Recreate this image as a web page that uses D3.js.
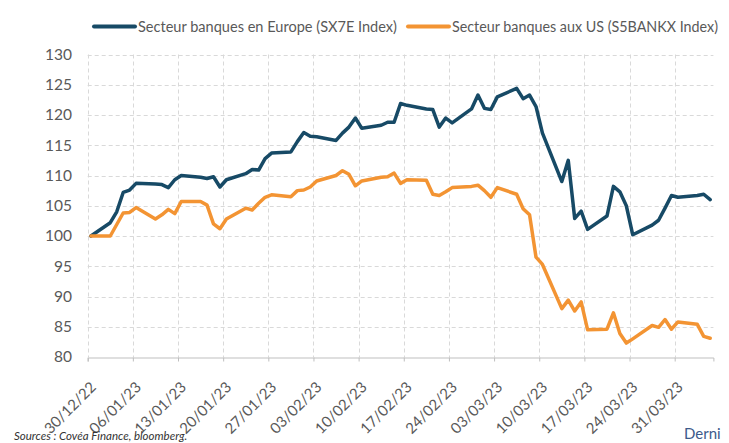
<!DOCTYPE html>
<html>
<head>
<meta charset="utf-8">
<script src="https://cdn.jsdelivr.net/npm/d3@7"></script>
<style>
body{margin:0;background:#fff;overflow:hidden;}
text{font-family:Lato,"Open Sans",sans-serif;}
</style>
</head>
<body>
<svg id="canvas" width="729" height="443"></svg>
<script>
// trading days shown on the chart
const dates = [
 "2022-12-30",
 "2023-01-02","2023-01-03","2023-01-04","2023-01-05","2023-01-06",
 "2023-01-09","2023-01-10","2023-01-11","2023-01-12","2023-01-13",
 "2023-01-16","2023-01-17","2023-01-18","2023-01-19","2023-01-20",
 "2023-01-23","2023-01-24","2023-01-25","2023-01-26","2023-01-27",
 "2023-01-30","2023-01-31","2023-02-01","2023-02-02","2023-02-03",
 "2023-02-06","2023-02-07","2023-02-08","2023-02-09","2023-02-10",
 "2023-02-13","2023-02-14","2023-02-15","2023-02-16","2023-02-17",
 "2023-02-20","2023-02-21","2023-02-22","2023-02-23","2023-02-24",
 "2023-02-27","2023-02-28","2023-03-01","2023-03-02","2023-03-03",
 "2023-03-06","2023-03-07","2023-03-08","2023-03-09","2023-03-10",
 "2023-03-13","2023-03-14","2023-03-15","2023-03-16","2023-03-17",
 "2023-03-20","2023-03-21","2023-03-22","2023-03-23","2023-03-24",
 "2023-03-27","2023-03-28","2023-03-29","2023-03-30","2023-03-31",
 "2023-04-03","2023-04-04","2023-04-05"
];

// SX7E Index, base 100
const sx7e = [
 100.0,
 102.2,104.0,107.2,107.6,108.7,
 108.6,108.5,108.0,109.3,110.0,
 109.7,109.5,109.8,108.1,109.3,
 110.3,111.0,110.9,112.8,113.7,
 113.9,115.6,117.1,116.5,116.4,
 115.8,117.0,118.0,119.5,117.8,
 118.3,118.8,118.8,121.9,121.6,
 121.0,120.9,118.0,119.5,118.7,
 121.0,123.3,121.1,120.9,123.0,
 124.4,122.7,123.3,121.4,117.0,
 109.0,112.5,102.9,104.1,101.1,
 103.3,108.2,107.3,105.0,100.2,
 101.8,102.6,104.6,106.7,106.4,
 106.7,106.9,106.0
];

// S5BANKX Index, base 100
const s5bankx = [
 100.0,
 100.0,101.9,103.8,103.9,104.7,
 102.8,103.5,104.4,103.7,105.7,
 105.7,105.1,102.0,101.2,102.8,
 104.6,104.3,105.4,106.4,106.8,
 106.5,107.5,107.6,108.1,109.1,
 110.0,110.8,110.2,108.3,109.1,
 109.7,109.8,110.4,108.7,109.3,
 109.2,106.9,106.7,107.3,108.0,
 108.2,108.4,107.5,106.4,108.0,
 106.9,104.5,103.5,96.5,95.3,
 88.0,89.4,87.6,89.1,84.5,
 84.6,87.3,83.9,82.3,83.0,
 85.2,84.9,86.2,84.6,85.8,
 85.4,83.4,83.1
];

const seriesNames = ["Secteur banques en Europe (SX7E Index)","Secteur banques aux US (S5BANKX Index)"];
const colors = ["#174a66","#f39433"];
const yTicks = [80,85,90,95,100,105,110,115,120,125,130];

let canvas = d3.select("#canvas");
let parse = d3.utcParse("%Y-%m-%d");
let days = dates.map(parse);

let x = d3.scaleUtc()
  .domain([parse("2022-12-30"), parse("2023-04-06")])
  .range([87.7, 713.4]);
let y = d3.scaleLinear().domain([80,130]).range([357, 54.5]);

let xTicks = d3.utcFriday.range(parse("2022-12-30"), parse("2023-04-06"));
let mid = d => d3.utcHour.offset(d, 12);

// grid
let grid = canvas.append("g").attr("stroke","#d9d9d9").attr("stroke-width",1).attr("stroke-dasharray","4,3");
grid.selectAll(".hg").data(yTicks.filter(v => v > 80)).join("line")
  .attr("x1", 87.7).attr("x2", 713.4)
  .attr("y1", d => Math.round(y(d)) + 0.5).attr("y2", d => Math.round(y(d)) + 0.5);
grid.selectAll(".vg").data(xTicks).join("line")
  .attr("x1", d => Math.round(x(d)) + 0.5).attr("x2", d => Math.round(x(d)) + 0.5)
  .attr("y1", y(130)).attr("y2", y(80));

// x axis
let xAxis = canvas.append("g").attr("transform", `translate(0,${Math.round(y(80)) + 0.5})`)
  .call(d3.axisBottom(x).tickValues(xTicks).tickSize(4).tickFormat(d3.utcFormat("%d/%m/%y")));
xAxis.select(".domain").attr("stroke","#bfbfbf");
xAxis.selectAll(".tick line").attr("stroke","#bfbfbf");
xAxis.selectAll(".tick text")
  .attr("fill","#595959").style("font-size","15px")
  .attr("text-anchor","end")
  .attr("transform","translate(5,27) rotate(-45)")
  .attr("x",0).attr("y",0).attr("dy","0.35em");

// y axis labels
canvas.append("g").selectAll("text").data(yTicks).join("text")
  .attr("x", 72).attr("y", d => y(d)).attr("dy","0.35em")
  .attr("text-anchor","end").attr("fill","#595959").style("font-size","15.5px")
  .text(d => d);

// lines
let line = d3.line().x((d,i) => x(mid(days[i]))).y(d => y(d));
[sx7e, s5bankx].forEach((s,k) => {
  canvas.append("path").datum(s)
    .attr("d", line)
    .attr("fill","none").attr("stroke", colors[k]).attr("stroke-width",3.5)
    .attr("stroke-linejoin","round").attr("stroke-linecap","round");
});

// legend
let legX = [94, 408];
let legW = [259, 266];
seriesNames.forEach((n,k) => {
  canvas.append("line").attr("x1", legX[k]).attr("x2", legX[k] + 41)
    .attr("y1", 26.5).attr("y2", 26.5)
    .attr("stroke", colors[k]).attr("stroke-width", 4).attr("stroke-linecap","round");
  canvas.append("text").attr("x", legX[k] + 44).attr("y", 32)
    .attr("fill","#595959").style("font-size","14.5px")
    .attr("textLength", legW[k]).attr("lengthAdjust","spacingAndGlyphs")
    .text(n);
});

// footer
canvas.append("text").attr("x", 14).attr("y", 440)
  .style("font-size","11.5px").style("font-style","italic").attr("fill","#333")
  .text("Sources : Covéa Finance, bloomberg.");
canvas.append("text").attr("x", 684).attr("y", 439)
  .style("font-size","15px").attr("fill","#3c5a8a")
  .text("Derni");
</script>
</body>
</html>
